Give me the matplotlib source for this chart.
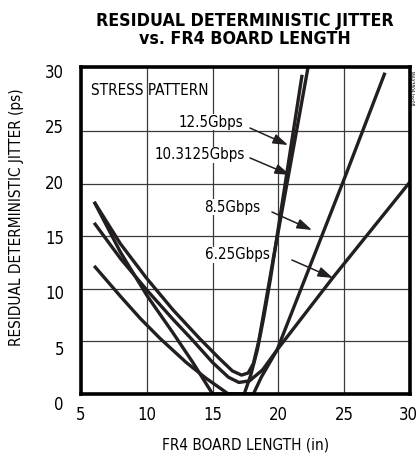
import numpy as np
import matplotlib
matplotlib.use("Agg")
import matplotlib.pyplot as plt
from matplotlib.transforms import ScaledTranslation

plt.rcParams['font.family'] = ['DejaVu Sans']
plt.rcParams['font.stretch'] = 'condensed'

# board length (in) vs residual deterministic jitter (ps)
len_125 = [6, 8, 10, 12, 14, 15.5, 16.5, 17.2, 17.7, 18.1, 18.5, 19.0, 19.6, 20.5, 21.4, 22.25]
dj_125 = [18.3, 14.3, 11.0, 8.0, 5.3, 3.4, 2.2, 1.8, 2.0, 2.9, 5.0, 8.5, 12.8, 19.0, 25.2, 31.1]

len_103 = [6, 8, 10, 12, 13.5, 15.0, 17.4, 17.9, 18.4, 18.9, 19.4, 20.6, 21.8]
dj_103 = [18.3, 13.5, 9.4, 5.8, 3.0, 0, 0, 1.8, 4.2, 7.4, 11.0, 20.7, 30.4]

len_85 = [6, 8, 9.5, 11, 13, 14.5, 16.2, 18.1, 18.7, 19.9, 25.1, 28.1]
dj_85 = [12.2, 9.3, 7.2, 5.3, 3.0, 1.5, 0, 0, 1.6, 4.2, 20.8, 30.6]

len_625 = [6, 8, 10, 12, 13.5, 15, 16.2, 17.0, 17.8, 18.8, 19.9, 24.15, 30]
dj_625 = [16.3, 12.9, 9.9, 7.1, 5.1, 3.0, 1.6, 1.1, 1.25, 2.3, 4.2, 11.1, 20.2]

rate_labels = ["12.5Gbps", "10.3125Gbps", "8.5Gbps", "6.25Gbps"]
x_ticks = [5, 10, 15, 20, 25, 30]
y_ticks = [0, 5, 10, 15, 20, 25, 30]

ink = "#231f20"

fig = plt.figure(figsize=(4.17, 4.57), dpi=100)
ax = fig.add_axes([81/417, 63/457, 329/417, 327/457])

ax.set_xlim(5, 30)
ax.set_ylim(0, 31.14)

for gx in x_ticks[1:-1]:
    ax.axvline(gx, color="#3a3a3a", lw=0.9, zorder=1)
for gy in y_ticks[1:-1]:
    ax.axhline(gy, color="#3a3a3a", lw=0.9, zorder=1)

for xs, ys in [(len_125, dj_125), (len_103, dj_103), (len_85, dj_85), (len_625, dj_625)]:
    ax.plot(xs, ys, color=ink, lw=2.4, solid_joinstyle="round", solid_capstyle="butt", zorder=3)

for s in ax.spines.values():
    s.set_linewidth(2.6)
    s.set_color("black")
    s.set_zorder(5)

ax.set_xticks(x_ticks)
ax.set_xticklabels([str(v) for v in x_ticks], fontsize=12)
ax.tick_params(axis="x", length=0, pad=9)
# keep the last label inside the canvas
last = ax.get_xticklabels()[-1]
last.set_transform(last.get_transform() + ScaledTranslation(-2/100, 0, fig.dpi_scale_trans))
ax.set_yticks([])
# y labels in the original sit on an even spacing that does not follow the grid
label_y = np.linspace(-1.05, 30.57, len(y_ticks))
for v, yy in zip(y_ticks, label_y):
    ax.text(-0.052, yy, str(v), transform=ax.get_yaxis_transform(),
            ha="right", va="center", fontsize=12, clip_on=False)

ax.set_xlabel("FR4 BOARD LENGTH (in)", fontsize=11, labelpad=9)
fig.text(17/417, 1 - 217/457, "RESIDUAL DETERMINISTIC JITTER (ps)", rotation=90,
         ha="center", va="center", fontsize=11)

fig.text(245/417, 1 - 30/457, "RESIDUAL DETERMINISTIC JITTER\nvs. FR4 BOARD LENGTH",
         ha="center", va="center", fontsize=12.8, fontweight="bold", linespacing=1.05)

ax.text(5.76, 28.9, "STRESS PATTERN", ha="left", va="center", fontsize=11)

label_pos = [(17.31, 25.9), (17.46, 22.76), (18.6, 17.8), (19.36, 13.24)]
arrow_tail = [(17.84, 25.33), (17.84, 22.48), (19.51, 17.33), (21.03, 12.76)]
arrow_head = [(20.73, 23.71), (20.88, 20.86), (22.55, 15.62), (24.15, 11.05)]
for lab, (tx, ty), tail, head in zip(rate_labels, label_pos, arrow_tail, arrow_head):
    ax.text(tx, ty, lab, ha="right", va="center", fontsize=10.8,
            bbox=dict(facecolor="white", edgecolor="none", pad=0.5), zorder=4)
    ax.annotate("", xy=head, xytext=tail,
                arrowprops=dict(arrowstyle="-|>,head_length=0.9,head_width=0.3",
                                color=ink, lw=1.1, shrinkA=0, shrinkB=0), zorder=4)

fig.text(412/417, 1 - 88/457, "MAX3804 toc08", rotation=270, ha="center", va="center",
         fontsize=3.5)

fig.savefig("out.png", dpi=100)
